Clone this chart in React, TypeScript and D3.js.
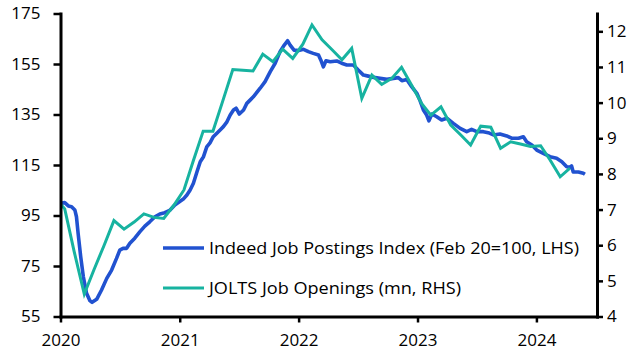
import React, { useEffect, useRef } from 'react';
import * as d3 from 'd3';

// Indeed job postings index (Feb 20 = 100)
const indeedDates = [
  '2020-01-02', '2020-01-14', '2020-01-25', '2020-02-04', '2020-02-14', '2020-02-19', '2020-02-24',
  '2020-03-03', '2020-03-11', '2020-03-21', '2020-03-31', '2020-04-07', '2020-04-21', '2020-05-06',
  '2020-05-22', '2020-06-06', '2020-06-21', '2020-07-01', '2020-07-11', '2020-07-22', '2020-08-01',
  '2020-08-16', '2020-09-01', '2020-09-16', '2020-10-01', '2020-10-17', '2020-11-01', '2020-11-16',
  '2020-12-01', '2020-12-17', '2021-01-12', '2021-01-23', '2021-02-02', '2021-02-12', '2021-02-23',
  '2021-03-05', '2021-03-15', '2021-03-25', '2021-04-04', '2021-04-14', '2021-04-25', '2021-05-05',
  '2021-05-15', '2021-05-26', '2021-06-05', '2021-06-15', '2021-06-23', '2021-07-03', '2021-07-16',
  '2021-07-26', '2021-08-05', '2021-08-15', '2021-09-05', '2021-09-20', '2021-10-06', '2021-10-21',
  '2021-11-05', '2021-11-18', '2021-11-28', '2021-12-06', '2021-12-18', '2022-01-01', '2022-01-16',
  '2022-01-31', '2022-02-15', '2022-03-03', '2022-03-10', '2022-03-18', '2022-03-26', '2022-04-08',
  '2022-04-28', '2022-05-13', '2022-05-29', '2022-06-18', '2022-07-03', '2022-07-19', '2022-08-03',
  '2022-08-19', '2022-09-08', '2022-09-29', '2022-10-19', '2022-11-03', '2022-11-14', '2022-11-29',
  '2022-12-14', '2022-12-30', '2023-01-09', '2023-01-19', '2023-01-29', '2023-02-05', '2023-02-14',
  '2023-03-01', '2023-03-16', '2023-04-01', '2023-04-21', '2023-05-12', '2023-06-01', '2023-06-16',
  '2023-07-02', '2023-07-22', '2023-08-06', '2023-08-22', '2023-09-11', '2023-10-02', '2023-10-17',
  '2023-11-07', '2023-11-22', '2023-12-02', '2023-12-18', '2024-01-02', '2024-01-22', '2024-02-12',
  '2024-03-03', '2024-03-19', '2024-04-03', '2024-04-13', '2024-04-18', '2024-04-23', '2024-05-09',
  '2024-05-24', '2024-05-29',
];
const indeedValues = [
  99.8, 100.1, 98.8, 98.5, 97.2, 94.5, 88,
  78.7, 70.8, 64.2, 61.3, 60.6, 61.8, 65.5,
  70.1, 73.4, 78, 81.3, 82, 82, 84,
  86, 88.6, 90.8, 92.5, 94.5, 95.6, 96.1,
  97, 99.2, 101.5, 103.1, 105.1, 107.8, 112.3,
  116.3, 118.3, 122.2, 123.8, 126.2, 127.6, 128.9,
  130.2, 132.1, 134.8, 136.8, 137.5, 135.2, 136.8,
  139.4, 140.7, 142, 145.4, 148, 152, 155.3,
  159.9, 162.5, 164.2, 162.5, 160.5, 160.3, 160.8,
  159.9, 159.2, 158.6, 156.6, 153.9, 156.3, 155.9,
  156.2, 155.3, 154.6, 154.6, 152.6, 150.6, 150.2,
  149.7, 149.3, 148.9, 149.3, 149.6, 148.4, 148.9,
  146, 143.4, 140.4, 136.8, 134.8, 132.5, 135.2,
  134.1, 132.8, 133.5, 131.5, 129.5, 128.2, 129.1,
  128.2, 128.2, 127.8, 126.9, 127.3, 126.5, 125.6,
  125.6, 126.2, 124.2, 122.9, 120.9, 119.6, 118.3,
  117.7, 116.3, 114.3, 114.1, 114.6, 112.2, 112.2,
  111.7, 111.3,
];

// JOLTS job openings (mn), monthly
const joltsMonths = [
  '2020-01', '2020-02', '2020-03', '2020-04', '2020-05', '2020-06', '2020-07', '2020-08', '2020-09', '2020-10', '2020-11', '2020-12',
  '2021-01', '2021-02', '2021-03', '2021-04', '2021-05', '2021-06', '2021-07', '2021-08', '2021-09', '2021-10', '2021-11', '2021-12',
  '2022-01', '2022-02', '2022-03', '2022-04', '2022-05', '2022-06', '2022-07', '2022-08', '2022-09', '2022-10', '2022-11', '2022-12',
  '2023-01', '2023-02', '2023-03', '2023-04', '2023-05', '2023-06', '2023-07', '2023-08', '2023-09', '2023-10', '2023-11', '2023-12',
  '2024-01', '2024-02', '2024-03', '2024-04', '2024-05',
];
const joltsValues = [
  7.35, 7.02, 5.82, 4.63, 5.32, 6.0, 6.69, 6.45, 6.65, 6.88, 6.78, 6.75,
  7.12, 7.55, 8.35, 9.2, 9.2, 10.07, 10.93, 10.91, 10.89, 11.36, 11.15, 11.5,
  11.24, 11.64, 12.18, 11.76, 11.49, 11.2, 11.52, 10.12, 10.77, 10.51, 10.68, 10.99,
  10.49, 9.97, 9.65, 9.88, 9.37, 9.09, 8.81, 9.34, 9.31, 8.72, 8.9, 8.84,
  8.77, 8.79, 8.39, 7.92, 8.16,
];

const leftTicks = [55, 75, 95, 115, 135, 155, 175];
const rightTicks = [4, 5, 6, 7, 8, 9, 10, 11, 12];
const yearTicks = [2020, 2021, 2022, 2023, 2024];

const indeedLabel = 'Indeed Job Postings Index (Feb 20=100, LHS)';
const joltsLabel = 'JOLTS Job Openings (mn, RHS)';

const BLUE = '#2152d0';
const TEAL = '#17b3a0';
const FONT = '"Open Sans", "Noto Sans", sans-serif';

const App = () => {
  const ref = useRef<SVGSVGElement>(null);

  useEffect(() => {
    const svg = d3.select(ref.current);
    svg.selectAll('*').remove();

    const width = 643;
    const height = 358;
    const left = 60.5;
    const right = 597;
    const top = 13.5;
    const bottom = 316.5;

    const parse = d3.timeParse('%Y-%m-%d');
    const parseMonth = d3.timeParse('%Y-%m');

    const x = d3
      .scaleTime()
      .domain([new Date(2020, 0, 1), new Date(2024, 6, 5)])
      .range([left, right]);
    const yL = d3.scaleLinear().domain([55, 175]).range([bottom, top]);
    const yR = d3.scaleLinear().domain([4, 12.5]).range([bottom, top]);

    // the monthly series sits ~18 days ahead of each month start on the source chart
    const joltsDate = (m: string) => d3.timeDay.offset(parseMonth(m) as Date, -18);

    svg
      .append('defs')
      .append('clipPath')
      .attr('id', 'plot-clip')
      .append('rect')
      .attr('x', left)
      .attr('y', 0)
      .attr('width', right - left)
      .attr('height', bottom);

    const plot = svg.append('g').attr('clip-path', 'url(#plot-clip)');

    const indeed = indeedDates.map((d, i) => ({ date: parse(d) as Date, value: indeedValues[i] }));
    const jolts = joltsMonths.map((m, i) => ({ date: joltsDate(m), value: joltsValues[i] }));

    plot
      .append('path')
      .datum(indeed)
      .attr('fill', 'none')
      .attr('stroke', BLUE)
      .attr('stroke-width', 3.6)
      .attr('stroke-linejoin', 'round')
      .attr(
        'd',
        d3
          .line<{ date: Date; value: number }>()
          .x((d) => x(d.date))
          .y((d) => yL(d.value))
      );

    plot
      .append('path')
      .datum(jolts)
      .attr('fill', 'none')
      .attr('stroke', TEAL)
      .attr('stroke-width', 3)
      .attr('stroke-linejoin', 'miter')
      .attr(
        'd',
        d3
          .line<{ date: Date; value: number }>()
          .x((d) => x(d.date))
          .y((d) => yR(d.value))
      );

    // axes
    const styleAxis = (g: any) => {
      g.select('.domain').attr('stroke', '#000').attr('stroke-width', 3).attr('stroke-linecap', 'square');
      g.selectAll('.tick line').attr('stroke', '#000').attr('stroke-width', 2.5);
      g.selectAll('.tick text').attr('fill', '#000').style('font-family', FONT).style('font-size', '17px');
    };

    svg
      .append('g')
      .attr('transform', `translate(0, ${bottom})`)
      .call(
        d3
          .axisBottom(x)
          .tickValues(yearTicks.map((yr) => new Date(yr, 0, 1)))
          .tickFormat((d) => d3.timeFormat('%Y')(d as Date))
          .tickSize(6)
          .tickSizeOuter(0)
          .tickPadding(11)
      )
      .call(styleAxis);

    svg
      .append('g')
      .attr('transform', `translate(${left}, 0)`)
      .call(d3.axisLeft(yL).tickValues(leftTicks).tickSize(7).tickSizeOuter(0).tickPadding(13))
      .call(styleAxis);

    svg
      .append('g')
      .attr('transform', `translate(${right}, 0)`)
      .call(d3.axisRight(yR).tickValues(rightTicks).tickSize(6).tickSizeOuter(0).tickPadding(4))
      .call(styleAxis);

    // legend
    const legend = [
      { label: indeedLabel, color: BLUE, width: 3.6, y: 248, len: 370 },
      { label: joltsLabel, color: TEAL, width: 3, y: 288, len: 252 },
    ];
    const lg = svg.append('g');
    legend.forEach((l) => {
      lg.append('line')
        .attr('x1', 163)
        .attr('x2', 204)
        .attr('y1', l.y)
        .attr('y2', l.y)
        .attr('stroke', l.color)
        .attr('stroke-width', l.width);
      lg.append('text')
        .attr('x', 209)
        .attr('y', l.y)
        .attr('dy', '0.35em')
        .attr('textLength', l.len)
        .attr('lengthAdjust', 'spacingAndGlyphs')
        .style('font-family', FONT)
        .style('font-size', '17px')
        .attr('fill', '#000')
        .text(l.label);
    });

    svg.attr('width', width).attr('height', height);
  }, []);

  return (
    <div style={{ position: 'absolute', left: 0, top: 0 }}>
      <svg ref={ref} width={643} height={358} style={{ display: 'block', background: '#fff' }}></svg>
    </div>
  );
};

export default App;
